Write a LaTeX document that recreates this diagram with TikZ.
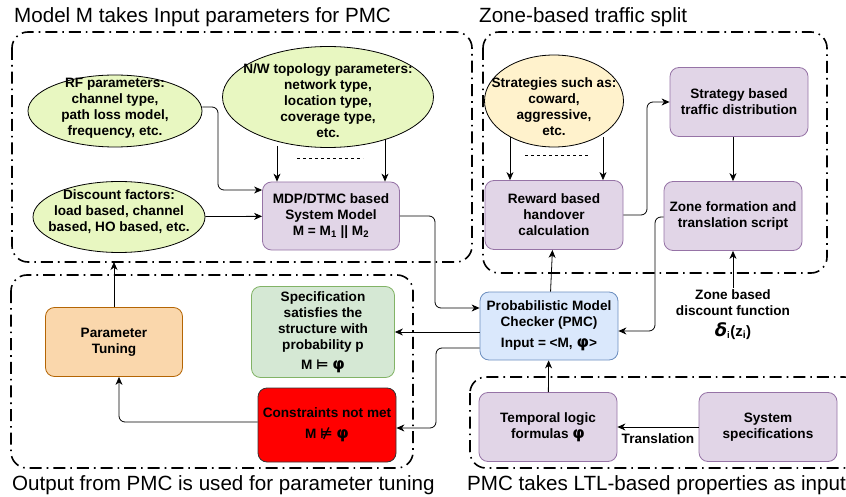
\documentclass[tikz,border=0pt]{standalone}
\usepackage{fontspec}
\setmainfont{Liberation Sans}
\newfontfamily\djv{DejaVu Sans}
\usetikzlibrary{arrows.meta, shapes.geometric}

\definecolor{ellgreen}{HTML}{E8F7C1}
\definecolor{ellyellow}{HTML}{FFF2CC}
\definecolor{purplefill}{HTML}{E1D5E7}
\definecolor{purpleline}{HTML}{9673A6}
\definecolor{bluefill}{HTML}{DAE8FC}
\definecolor{blueline}{HTML}{6C8EBF}
\definecolor{greenfill}{HTML}{D5E8D4}
\definecolor{greenline}{HTML}{82B366}
\definecolor{orangefill}{HTML}{FAD7AC}
\definecolor{orangeline}{HTML}{B46504}

\tikzset{
	boxfont/.style={font=\fontsize{13.6}{16}\selectfont\bfseries},
	box/.style={rectangle, rounded corners=9pt, line width=0.8pt, draw=purpleline, fill=purplefill, minimum width=138pt, minimum height=69pt, inner sep=2pt, align=center, boxfont},
	blob/.style={ellipse, line width=0.8pt, draw, fill=ellgreen, inner sep=0pt},
	blobtext/.style={align=center, inner sep=0pt, boxfont},
	group/.style={draw, line width=1.6pt, rounded corners=16pt, dash pattern=on 12pt off 5pt on 1.6pt off 5pt},
	grouptitle/.style={anchor=west, inner sep=0pt, font=\fontsize{20.6}{22}\selectfont},
	link/.style={-{Stealth[length=8pt, width=7pt, inset=2.5pt]}, line width=0.8pt, rounded corners=6pt}
}

\newcommand{\phisym}{{\fontsize{16}{16}\selectfont\djv\bfseries φ}}

\begin{document}
\begin{tikzpicture}[x=1pt, y=-1pt]
	\useasboundingbox (0,0) rectangle (846,497);

	\draw[group] (12,32) rectangle (472,262);
	\draw[group] (483,32) rectangle (827,273);
	\draw[group] (11,275) rectangle (413,468);
	\draw[group] (470,377) rectangle (860,468);

	\node[grouptitle] (t1) at (14,17) {Model M takes Input parameters for PMC};
	\node[grouptitle] (t2) at (479,17) {Zone-based traffic split};
	\node[grouptitle] (t3) at (12,485) {Output from PMC is used for parameter tuning};
	\node[grouptitle] (t4) at (467,485) {PMC takes LTL-based properties as input};

	\node[blob, minimum width=174pt, minimum height=72pt, label={[blobtext, yshift=3pt]center:RF parameters:\\channel type,\\path loss model,\\frequency, etc.}] 	(rf) 	at (115,111) {};
	\node[blob, minimum width=211pt, minimum height=101pt, label={[blobtext, yshift=-4pt]center:N/W topology parameters:\\network type,\\location type,\\coverage type,\\etc.}] 	(nw) 	at (328,97) {};
	\node[blob, minimum width=172pt, minimum height=71pt, label={[blobtext, yshift=5pt]center:Discount factors:\\load based, channel\\based, HO based, etc.}] 	(disc) 	at (119,217) {};
	\node[box, minimum width=137pt, minimum height=68pt] 	(mdp) 	at (331,216) {MDP/DTMC based\\System Model\\M = M\textsubscript{1} || M\textsubscript{2}};

	\node[blob, fill=ellyellow, minimum width=139pt, minimum height=92pt, label={[blobtext, yshift=-6pt]center:Strategies such as:\\coward,\\aggressive,\\etc.}] 	(strat) 	at (554,101) {};
	\node[box] 	(reward) 	at (554,215) {Reward based\\handover\\calculation};
	\node[box] 	(dist) 		at (739,102) {Strategy based\\traffic distribution};
	\node[box] 	(zone) 		at (733,216) {Zone formation and\\translation script};
	\node[anchor=north, align=center, inner sep=1pt, boxfont] 	(zdf) 	at (733,288) {Zone based\\discount function\\[5pt]{\fontsize{18}{18}\selectfont\djv\bfseries\itshape δ}\textsubscript{i}{\fontsize{15}{15}\selectfont(z\textsubscript{i})}};

	\node[box, draw=blueline, fill=bluefill, minimum height=68pt] 	(pmc) 	at (549,326) {Probabilistic Model\\Checker (PMC)\\[5pt]Input = <M, \phisym>};

	\node[box, draw=orangeline, fill=orangefill, minimum width=137pt] 	(tune) 	at (114,342) {Parameter\\Tuning};
	\node[box, draw=greenline, fill=greenfill, minimum width=143pt, minimum height=91pt] 	(spec) 	at (323,332) {Specification\\satisfies the\\structure with\\probability p\\[4pt]M {\djv ⊨} \phisym};
	\node[box, draw=black!80, fill=red, minimum height=74pt] 	(fail) 	at (327,425) {Constraints not met\\[5pt]M {\djv ⊭} \phisym};

	\node[box] 	(ltl) 	at (548,427) {Temporal logic\\formulas \phisym};
	\node[box] 	(sys) 	at (768,427) {System\\specifications};

	\draw[link] (rf.east |- 0,107) -- (218,107) -- (218,190) -- (mdp.west |- 0,190);
	\path[link] (disc) edge (mdp);
	\path[link] (277,146) edge (mdp.north -| 277,0);
	\path[link] (385,139) edge (mdp.north -| 385,0);
	\draw[dashed] (297,158) -- (363,158);

	\path[link] (510,137) edge (reward.north -| 510,0);
	\path[link] (603,137) edge (reward.north -| 603,0);
	\draw[dashed] (525,155) -- (590,155);

	\draw[link] (reward.east) -- (647,215) -- (647,102) -- (dist.west);
	\path[link] (dist.south -| 733,0) edge (zone.north);
	\path[link] (zdf.north) edge (zone.south);
	\draw[link] (zone.west |- 0,217) -- (655,217) -- (655,331) -- (pmc.east |- 0,331);

	\draw[link] (mdp.east) -- (435,216) -- (435,308) -- (pmc.west |- 0,308);
	\path[link] (pmc) edge (reward);
	\path[link] (pmc.west |- 0,332) edge (spec.east |- 0,332);
	\draw[link] (pmc.west |- 0,348) -- (436,348) -- (436,428) -- (fail.east |- 0,428);
	\draw[link] (fail.west |- 0,422) -- (119,422) -- (tune.south -| 119,0);
	\path[link] (tune.north) edge (114,262);

	\path[link] (ltl) edge (pmc);
	\path[link] (sys) edge node[below=3pt, boxfont] {Translation} (ltl);
\end{tikzpicture}
\end{document}
